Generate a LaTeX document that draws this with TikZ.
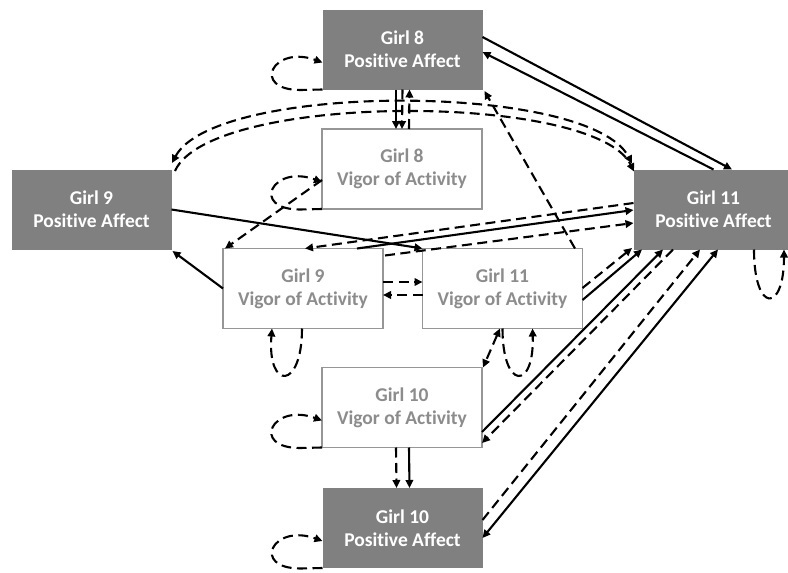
\documentclass[tikz,border=0pt]{standalone}
\usepackage{fontspec}
\setmainfont{Carlito}[Ligatures=NoCommon]
\usetikzlibrary{arrows.meta}
\definecolor{boxdark}{RGB}{128,128,128}
\definecolor{boxline}{RGB}{150,150,150}
\definecolor{boxtext}{RGB}{140,140,140}
\tikzset{
  base/.style={rectangle, minimum width=160pt, minimum height=80pt, inner sep=0pt, outer sep=0pt,
    align=center, font=\fontsize{19.5}{23}\selectfont\bfseries},
  affect/.style={base, fill=boxdark, text=white},
  vigor/.style={base, draw=boxline, line width=1.4pt, fill=white, text=boxtext},
  link/.style={line width=2.1pt, -{Triangle[length=8pt,width=7.5pt]}},
  dlink/.style={link, dash pattern=on 10pt off 5.5pt},
  both/.style={{Triangle[length=8pt,width=7.5pt]}-{Triangle[length=8pt,width=7.5pt]}}
}
\begin{document}
\begin{tikzpicture}[x=1pt, y=-1pt]
\useasboundingbox (0,0) rectangle (788,573);

% nodes
\node[affect] (g8pa)  at (402.5,49.5) {Girl 8\\Positive Affect};
\node[vigor]  (g8va)  at (402,169)    {Girl 8\\Vigor of Activity};
\node[affect] (g9pa)  at (91.5,209.5) {Girl 9\\Positive Affect};
\node[vigor]  (g9va)  at (303,288.5)  {Girl 9\\Vigor of Activity};
\node[vigor]  (g11va) at (502.5,288.5){Girl 11\\Vigor of Activity};
\node[affect] (g11pa) at (713.5,209.5){Girl 11\\Positive Affect};
\node[vigor]  (g10va) at (402,407.5)  {Girl 10\\Vigor of Activity};
\node[affect] (g10pa) at (402.5,528)  {Girl 10\\Positive Affect};

% self loops
\draw[dlink] (g8pa.south west) -- ++(-22,0.5) .. controls +(-50,0) and +(-50,-18) .. ([shift={(0,-27)}]g8pa.south west);
\draw[dlink] (g8va.south west) -- ++(-22,0.5) .. controls +(-50,0) and +(-50,-18) .. ([shift={(0,-27)}]g8va.south west);
\draw[dlink] (g10va.south west) -- ++(-22,0.5) .. controls +(-50,0) and +(-50,-18) .. ([shift={(0,-27)}]g10va.south west);
\draw[dlink] (g10pa.south west) -- ++(-22,0.5) .. controls +(-50,0) and +(-50,-18) .. ([shift={(0,-27)}]g10pa.south west);
\draw[dlink] ([shift={(-1,0)}]g9va.south) .. controls +(0,62) and +(-5,62) .. ([shift={(-31,0)}]g9va.south);
\draw[dlink] (g11va.south) .. controls +(0,62) and +(2,62) .. ([shift={(30,0)}]g11va.south);
\draw[dlink] ([shift={(40.5,0)}]g11pa.south) .. controls +(0,64) and +(0,64) .. ([shift={(70.5,0)}]g11pa.south);

% Girl 8 affect and vigor
\draw[link]  ([shift={(-6.5,0)}]g8pa.south) -- ([shift={(-6,0)}]g8va.north);
\draw[dlink] (g8pa.south) -- (g8va.north);
\draw[dlink] ([shift={(7,0)}]g8va.north) -- ([shift={(7,0)}]g8pa.south);

% Girl 8 affect and Girl 11 affect
\draw[link] ([shift={(0,-12.5)}]g8pa.east) -- ([shift={(18.5,0)}]g11pa.north);
\draw[link] (g11pa.north) -- ([shift={(0,2.5)}]g8pa.east);

% long arcs between Girl 9 and Girl 11 affect
\draw[dlink, both] ([shift={(0.5,-6.5)}]g9pa.north east) .. controls (215,82) and (590,82) .. ([shift={(-1.5,-6)}]g11pa.north west);
\draw[dlink] ([shift={(3.5,1.5)}]g9pa.north east) .. controls (210,92) and (595,92) .. ([shift={(0.5,2)}]g11pa.north west);

% Girl 11 vigor to Girl 8 affect
\draw[dlink] ([shift={(-7.5,0)}]g11va.north east) -- ([shift={(2,1.5)}]g8pa.south east);

% Girl 8 vigor to Girl 9 vigor
\draw[dlink] ([shift={(0,11)}]g8va.west) -- ([shift={(2,0)}]g9va.north west);

% Girl 9 links
\draw[link] (g9pa.east) -- (g11va.north west);
\draw[link] (g9va.west) -- ([shift={(1,1.5)}]g9pa.south east);
\draw[dlink] ([shift={(0,-6.5)}]g9va.east) -- ([shift={(0,-6.5)}]g11va.west);
\draw[dlink] ([shift={(0,6.5)}]g11va.west) -- ([shift={(0,6.5)}]g9va.east);
\draw[dlink] ([shift={(0,-6.5)}]g11pa.west) -- ([shift={(2,0)}]g9va.north);
\draw[link] ([shift={(54,0)}]g9va.north) -- ([shift={(0,0.5)}]g11pa.west);
\draw[dlink] ([shift={(2,7)}]g9va.north east) -- ([shift={(0,13.5)}]g11pa.west);

% Girl 11 vigor and affect
\draw[dlink] ([shift={(0,-0.5)}]g11va.east) -- ([shift={(-1.5,-1.5)}]g11pa.south west);
\draw[link] ([shift={(0,11.5)}]g11va.east) -- ([shift={(8.5,0)}]g11pa.south west);

% Girl 11 vigor and Girl 10 vigor
\draw[dlink, both] ([shift={(-2.5,0)}]g11va.south) -- ([shift={(1,0)}]g10va.north east);

% Girl 10 vigor and Girl 11 affect
\draw[link] ([shift={(0,24.5)}]g10va.east) -- ([shift={(29.5,0)}]g11pa.south west);
\draw[dlink] ([shift={(39.5,0)}]g11pa.south west) -- ([shift={(0,35.5)}]g10va.east);

% Girl 10 affect and Girl 11 affect
\draw[dlink] ([shift={(0,-8)}]g10pa.east) -- ([shift={(66.5,0)}]g11pa.south west);
\draw[link, both] ([shift={(0,10)}]g10pa.east) -- ([shift={(84.5,0)}]g11pa.south west);

% Girl 10 vigor to Girl 10 affect
\draw[dlink] ([shift={(-6,0)}]g10va.south) -- ([shift={(-6,0)}]g10pa.north);
\draw[link]  ([shift={(7,0)}]g10va.south) -- ([shift={(7,0)}]g10pa.north);
\end{tikzpicture}
\end{document}
